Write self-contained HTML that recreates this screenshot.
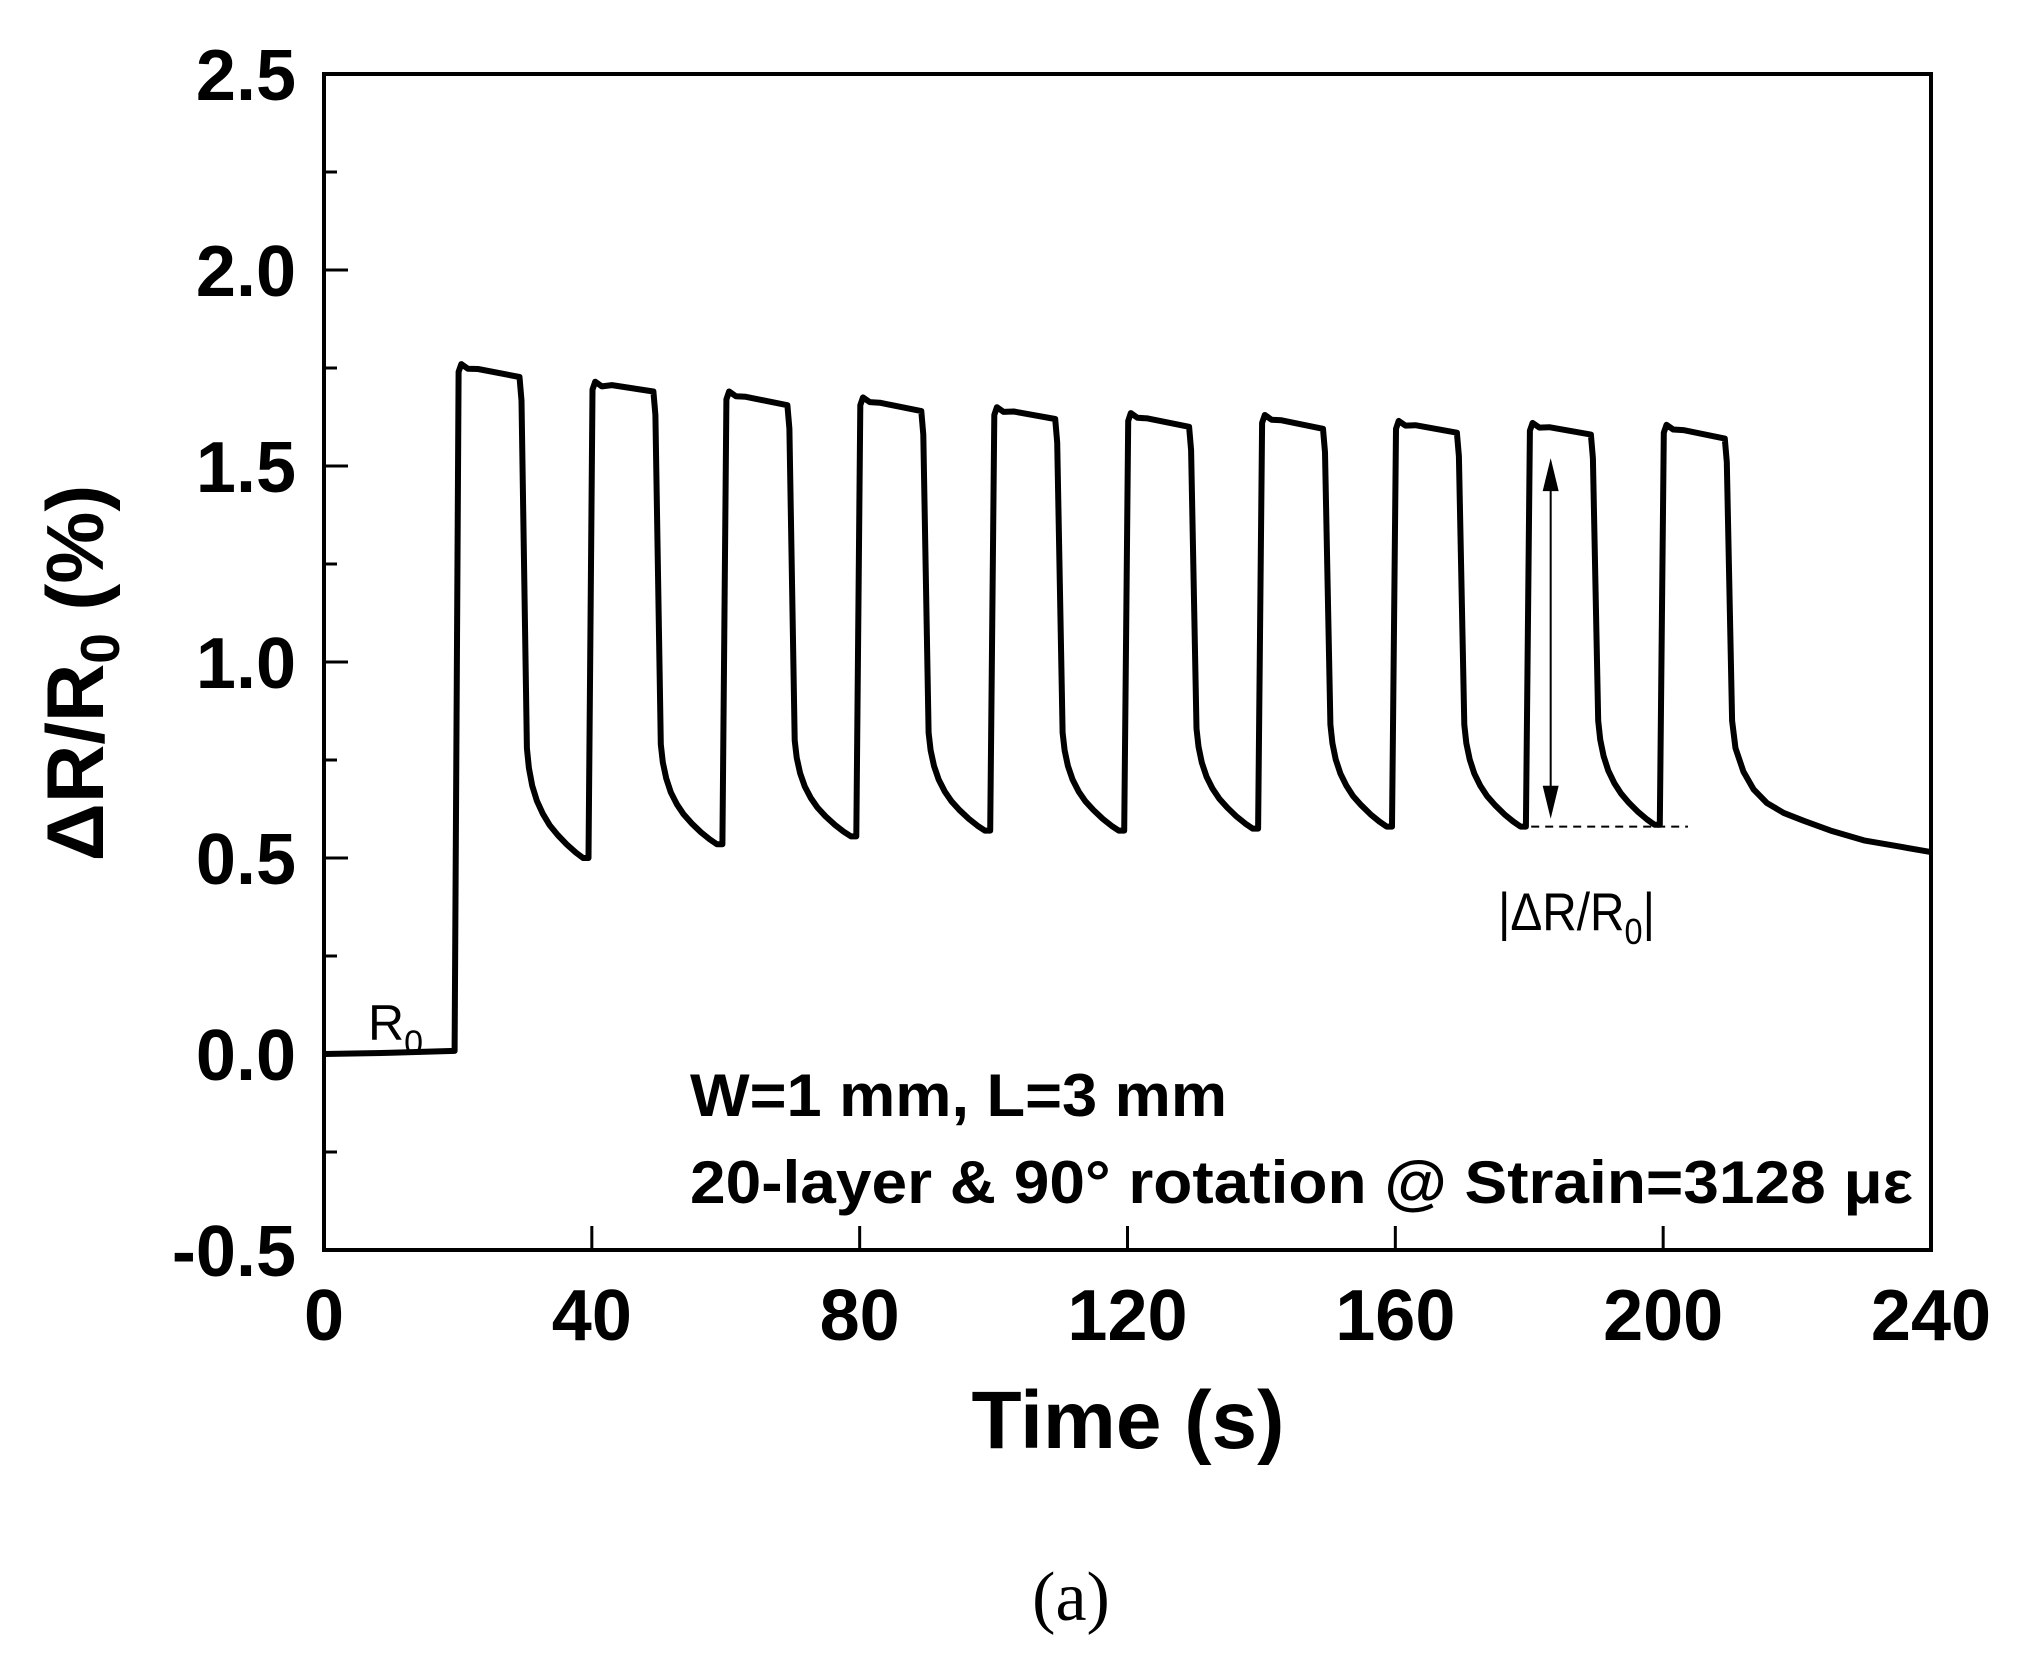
<!DOCTYPE html>
<html><head><meta charset="utf-8"><style>
html,body{margin:0;padding:0;background:#fff;}
svg{display:block;}
</style></head><body>
<svg id="chart" width="2036" height="1659" viewBox="0 0 2036 1659" xmlns="http://www.w3.org/2000/svg" font-family="'Liberation Sans', sans-serif">
<rect width="2036" height="1659" fill="#fff"/>
<g id="axes"></g>
<g id="series"></g>
<g id="annot"></g>
</svg>
<script>
// data arrays
const xTicks = [0, 40, 80, 120, 160, 200, 240];
const yTicks = [-0.5, 0.0, 0.5, 1.0, 1.5, 2.0, 2.5];
const yTickLabels = ["-0.5", "0.0", "0.5", "1.0", "1.5", "2.0", "2.5"];
const cycleStarts = [20, 40, 60, 80, 100, 120, 140, 160, 180, 200];
const peakVals = [1.76, 1.715, 1.69, 1.675, 1.65, 1.635, 1.63, 1.615, 1.61, 1.605];
const plateauEndVals = [1.727, 1.69, 1.655, 1.64, 1.62, 1.60, 1.595, 1.585, 1.58, 1.57];
const kneeVals = [0.78, 0.79, 0.80, 0.82, 0.82, 0.83, 0.84, 0.84, 0.85, 0.85];
const minVals = [0.50, 0.535, 0.555, 0.57, 0.57, 0.575, 0.58, 0.58, 0.585, 0.59];
const baselineTimes = [0, 10, 19.5];
const baselineVals = [0.0, 0.003, 0.008];
const tailTimes = [210.8, 212, 213.5, 215.5, 218, 221, 225, 230, 235, 240];
const tailVals = [0.78, 0.72, 0.675, 0.64, 0.615, 0.595, 0.57, 0.545, 0.53, 0.515];
const decayDt = [0, 0.3, 0.8, 1.5, 2.4, 3.4, 4.6, 6.0, 7.3, 8.4];
const decayFrac = [1, 0.82, 0.66, 0.52, 0.40, 0.30, 0.21, 0.12, 0.05, 0];

const NS = "http://www.w3.org/2000/svg";
const X0 = 324, X1 = 1931, Y0 = 1250, Y1 = 74;
const xs = t => X0 + (t - 0) / 240 * (X1 - X0);
const ys = v => Y0 - (v + 0.5) / 3 * (Y0 - Y1);
function mk(tag, attrs, parent) {
  const e = document.createElementNS(NS, tag);
  for (const k in attrs) e.setAttribute(k, attrs[k]);
  parent.appendChild(e);
  return e;
}
const axes = document.getElementById('axes');
const frame = mk('rect', {x: X0, y: Y1, width: X1 - X0, height: Y0 - Y1, fill: 'none', stroke: '#000', 'stroke-width': 4}, axes);



xTicks.forEach((t, i) => {
  const x = xs(t);
  const tk = mk('line', {x1: x, x2: x, y1: Y0, y2: Y0 - 24, stroke: '#000', 'stroke-width': 3}, axes);
  
  
  const lb = mk('text', {x: x, y: 1340, 'text-anchor': 'middle', 'font-size': 72, 'font-weight': 'bold'}, axes);
  lb.textContent = String(t);
  
  
});
yTicks.forEach((v, i) => {
  const y = ys(v);
  const tk = mk('line', {x1: X0, x2: X0 + 24, y1: y, y2: y, stroke: '#000', 'stroke-width': 3}, axes);
  
  
  if (i < yTicks.length - 1) {
    const my = ys(v + 0.25);
    const mt = mk('line', {x1: X0, x2: X0 + 13, y1: my, y2: my, stroke: '#000', 'stroke-width': 3}, axes);
    
    
  }
  const lb = mk('text', {x: 296, y: y + 26, 'text-anchor': 'end', 'font-size': 72, 'font-weight': 'bold'}, axes);
  lb.textContent = yTickLabels[i];
  
  
});

// series
const pts = [];
baselineTimes.forEach((t, i) => pts.push([t, baselineVals[i]]));
cycleStarts.forEach((s, i) => {
  pts.push([s - 0.5, i === 0 ? baselineVals[baselineVals.length - 1] : minVals[i - 1]]);
  pts.push([s + 0.1, peakVals[i] - 0.02]);
  pts.push([s + 0.5, peakVals[i]]);
  pts.push([s + 1.5, peakVals[i] - 0.012]);
  pts.push([s + 3.0, (peakVals[i] + plateauEndVals[i]) / 2 + 0.004]);
  pts.push([s + 9.2, plateauEndVals[i]]);
  pts.push([s + 9.5, plateauEndVals[i] - 0.06]);
  if (i < cycleStarts.length - 1) {
    decayDt.forEach((d, j) => pts.push([s + 10.3 + d, minVals[i] + (kneeVals[i] - minVals[i]) * decayFrac[j]]));
  } else {
    pts.push([s + 10.3, kneeVals[i]]);
  }
});
tailTimes.forEach((t, i) => pts.push([t, tailVals[i]]));
const series = document.getElementById('series');
const path = mk('path', {d: pts.map((p, i) => (i ? 'L' : 'M') + xs(p[0]).toFixed(1) + ',' + ys(p[1]).toFixed(1)).join(' '), fill: 'none', stroke: '#000', 'stroke-width': 6, 'stroke-linejoin': 'round'}, series);



// annotations
const an = document.getElementById('annot');
const dash = mk('line', {x1: xs(178.2), x2: xs(203.7), y1: ys(0.58), y2: ys(0.58), stroke: '#000', 'stroke-width': 2, 'stroke-dasharray': '8,6'}, an);


const ax = xs(183.2), ayTop = ys(1.52), ayBot = ys(0.6);
const arl = mk('line', {x1: ax, x2: ax, y1: ayTop + 30, y2: ayBot - 30, stroke: '#000', 'stroke-width': 2}, an);


const ah1 = mk('polygon', {points: `${ax},${ayTop} ${ax-8},${ayTop+33} ${ax+8},${ayTop+33}`, fill: '#000'}, an);


const ah2 = mk('polygon', {points: `${ax},${ayBot} ${ax-8},${ayBot-33} ${ax+8},${ayBot-33}`, fill: '#000'}, an);


</script>
<svg style="position:absolute;left:0;top:0" width="2036" height="1659" viewBox="0 0 2036 1659" xmlns="http://www.w3.org/2000/svg" font-family="'Liberation Sans', sans-serif">
<text x="1498" y="930" font-size="53" textLength="157" lengthAdjust="spacingAndGlyphs">|ΔR/R<tspan font-size="36" dy="14">0</tspan><tspan dy="-14">|</tspan></text>
<text x="368" y="1040" font-size="50">R<tspan font-size="34" dy="14">0</tspan></text>
<text x="690" y="1116" font-size="60" font-weight="bold" textLength="537" lengthAdjust="spacingAndGlyphs">W=1 mm, L=3 mm</text>
<text x="690" y="1203" font-size="60" font-weight="bold" textLength="1223" lengthAdjust="spacingAndGlyphs">20-layer &amp;  90° rotation @ Strain=3128 με</text>
<text x="1128" y="1448" font-size="82" font-weight="bold" text-anchor="middle">Time (s)</text>
<text transform="translate(103,673) rotate(-90)" font-size="81" font-weight="bold" text-anchor="middle">ΔR/R<tspan font-size="55" dy="16">0</tspan><tspan dy="-16"> (%)</tspan></text>
<text x="1071" y="1620" font-size="70" text-anchor="middle" font-family="'Liberation Serif', serif">(a)</text>
</svg>
</body></html>
